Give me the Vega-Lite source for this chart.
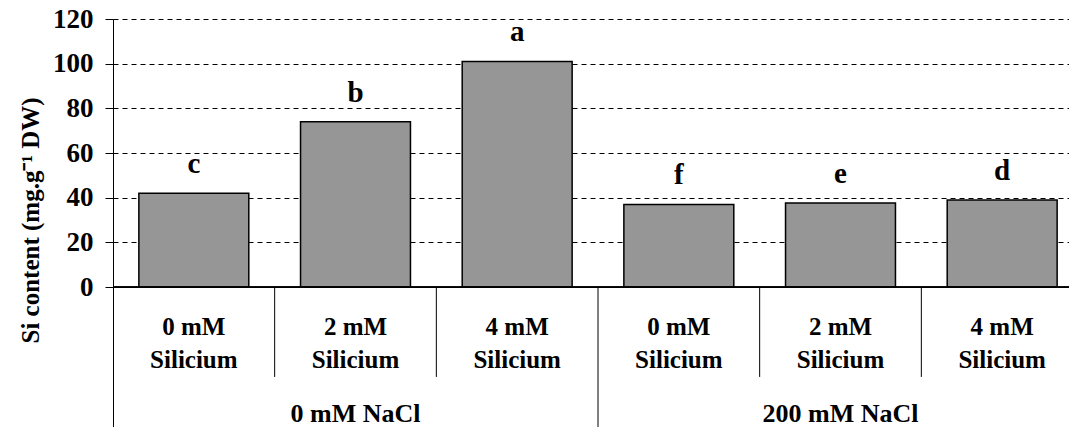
{
  "$schema": "https://vega.github.io/schema/vega-lite/v6.json",
  "autosize": {"type": "none"},
  "padding": {"left": 113, "top": 19, "right": 0, "bottom": 0},
  "width": 956,
  "height": 408,
  "background": "white",
  "config": {
    "view": {"stroke": null},
    "font": "Times New Roman, Liberation Serif, serif",
    "text": {"font": "Times New Roman, Liberation Serif, serif", "fontWeight": 700, "fontSize": 25, "color": "black"}
  },
  "data": {
    "values": [
      {"cat": "A1", "si": "0 mM", "nacl": "0 mM NaCl", "value": 42, "letter": "c"},
      {"cat": "A2", "si": "2 mM", "nacl": "0 mM NaCl", "value": 74, "letter": "b"},
      {"cat": "A3", "si": "4 mM", "nacl": "0 mM NaCl", "value": 101, "letter": "a"},
      {"cat": "B1", "si": "0 mM", "nacl": "200 mM NaCl", "value": 37, "letter": "f"},
      {"cat": "B2", "si": "2 mM", "nacl": "200 mM NaCl", "value": 37.6, "letter": "e"},
      {"cat": "B3", "si": "4 mM", "nacl": "200 mM NaCl", "value": 39, "letter": "d"}
    ]
  },
  "encoding": {
    "x": {
      "field": "cat",
      "type": "nominal",
      "sort": null,
      "axis": null,
      "scale": {"paddingInner": 0, "paddingOuter": 0, "range": [0, 970]}
    }
  },
  "layer": [
    {
      "mark": {"type": "bar", "width": {"band": 0.68}, "fill": "#969696", "stroke": "black", "strokeWidth": 1.5},
      "encoding": {
        "y": {
          "field": "value",
          "type": "quantitative",
          "scale": {"domain": [-62.6, 120], "nice": false, "zero": false},
          "axis": {
            "values": [0, 20, 40, 60, 80, 100, 120],
            "title": "Si content (mg.g⁻¹ DW)",
            "titleFont": "Times New Roman, Liberation Serif, serif",
            "titleFontWeight": 700,
            "titleFontSize": 25,
            "titleColor": "black",
            "titleX": -83,
            "titleY": 201,
            "titleBaseline": "middle",
            "titleAngle": -90,
            "labelFont": "Times New Roman, Liberation Serif, serif",
            "labelFontWeight": 700,
            "labelFontSize": 27,
            "labelColor": "black",
            "labelPadding": 12,
            "tickSize": 8,
            "tickColor": "black",
            "domainColor": "black",
            "grid": true,
            "gridColor": "black",
            "gridDash": [5, 4],
            "gridWidth": 1
          }
        }
      }
    },
    {
      "mark": {"type": "text", "baseline": "alphabetic", "dy": -20, "fontSize": 29},
      "encoding": {
        "y": {"field": "value", "type": "quantitative"},
        "text": {"field": "letter"}
      }
    },
    {
      "mark": {"type": "rule", "color": "black", "strokeWidth": 1},
      "encoding": {"y": {"datum": 0}, "x": null}
    },
    {
      "transform": [{"filter": "datum.si != '0 mM'"}],
      "mark": {"type": "rule", "color": "black", "strokeWidth": 1},
      "encoding": {
        "x": {"field": "cat", "type": "nominal", "sort": null, "bandPosition": 0},
        "y": {"datum": 0},
        "y2": {"datum": -40.2}
      }
    },
    {
      "transform": [{"filter": "datum.cat == 'B1'"}],
      "mark": {"type": "rule", "color": "black", "strokeWidth": 1},
      "encoding": {
        "x": {"field": "cat", "type": "nominal", "sort": null, "bandPosition": 0},
        "y": {"datum": 0},
        "y2": {"datum": -62.6}
      }
    },
    {
      "mark": {"type": "text", "baseline": "middle"},
      "encoding": {
        "y": {"datum": -17.8},
        "text": {"field": "si"}
      }
    },
    {
      "mark": {"type": "text", "baseline": "middle", "text": "Silicium"},
      "encoding": {
        "y": {"datum": -32.6}
      }
    },
    {
      "transform": [{"filter": "datum.si == '2 mM'"}],
      "mark": {"type": "text", "baseline": "middle", "fontSize": 26},
      "encoding": {
        "y": {"datum": -56.7},
        "text": {"field": "nacl"}
      }
    }
  ]
}
